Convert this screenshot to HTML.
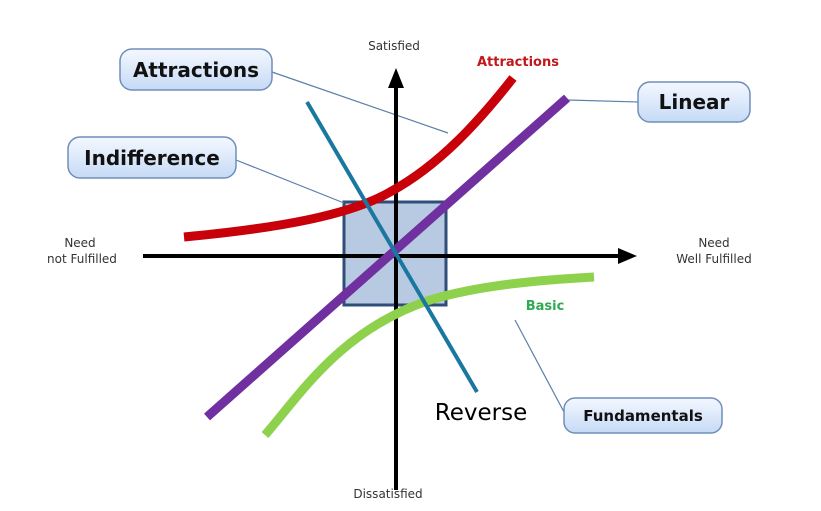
<!DOCTYPE html>
<html><head><meta charset="utf-8"><style>
html,body{margin:0;padding:0;background:#fff;}
svg{display:block;}
text{font-family:"DejaVu Sans","Liberation Sans",sans-serif;}
</style></head><body>
<svg width="821" height="511" viewBox="0 0 821 511" xmlns="http://www.w3.org/2000/svg">
<defs>
<linearGradient id="bg" x1="0" y1="0" x2="0" y2="1">
<stop offset="0" stop-color="#f4f8ff"/><stop offset="1" stop-color="#c6daf6"/>
</linearGradient>
</defs>
<!-- box -->
<rect x="344" y="202" width="102" height="103" fill="#b8c9e2" stroke="#2f4e78" stroke-width="3"/>
<!-- connectors -->
<g stroke="#5b7fa8" stroke-width="1.2" fill="none">
<line x1="272" y1="72" x2="448" y2="133"/>
<line x1="236" y1="160" x2="344" y2="203"/>
<line x1="638" y1="102" x2="568" y2="100"/>
<line x1="564" y1="412" x2="515" y2="320"/>
</g>
<!-- axes -->
<line x1="143" y1="256" x2="622" y2="256" stroke="#000" stroke-width="4"/>
<polygon points="637,256 618,248 618,264" fill="#000"/>
<line x1="396" y1="490" x2="396" y2="84" stroke="#000" stroke-width="4"/>
<polygon points="396,68 388,88 404,88" fill="#000"/>
<!-- curves -->
<path d="M184,237 C280,228 350,215 390,192 C440,165 480,120 513,78" stroke="#c8000a" stroke-width="9" fill="none"/>
<line x1="207" y1="417" x2="567" y2="98" stroke="#7030a0" stroke-width="9"/>
<path d="M265,435 C300,395 340,330 430,300 C480,285 540,280 594,277" stroke="#8ed14c" stroke-width="9" fill="none"/>
<line x1="307" y1="102" x2="477" y2="392" stroke="#1a78a0" stroke-width="4"/>
<!-- callout boxes -->
<g stroke="#6f8fb8" stroke-width="1.5" fill="url(#bg)">
<rect x="120" y="49" width="152" height="41" rx="12"/>
<rect x="68" y="137" width="168" height="41" rx="12"/>
<rect x="638" y="82" width="112" height="40" rx="12"/>
<rect x="564" y="398" width="158" height="35" rx="11"/>
</g>
<g font-weight="bold" fill="#111" text-anchor="middle">
<text x="196" y="77" font-size="20">Attractions</text>
<text x="152" y="165" font-size="20">Indifference</text>
<text x="694" y="109" font-size="20">Linear</text>
<text x="643" y="421" font-size="15">Fundamentals</text>
</g>
<g font-size="12" fill="#333" text-anchor="middle">
<text x="394" y="50">Satisfied</text>
<text x="388" y="498">Dissatisfied</text>
<text x="80" y="247">Need</text>
<text x="82" y="263">not Fulfilled</text>
<text x="714" y="247">Need</text>
<text x="714" y="263">Well Fulfilled</text>
</g>
<text x="518" y="66" font-size="13" font-weight="bold" fill="#c0181c" text-anchor="middle">Attractions</text>
<text x="545" y="310" font-size="13" font-weight="bold" fill="#2eaa55" text-anchor="middle">Basic</text>
<text x="481" y="420" font-size="23" fill="#000" text-anchor="middle" font-family="Liberation Sans,sans-serif">Reverse</text>
</svg>
</body></html>
